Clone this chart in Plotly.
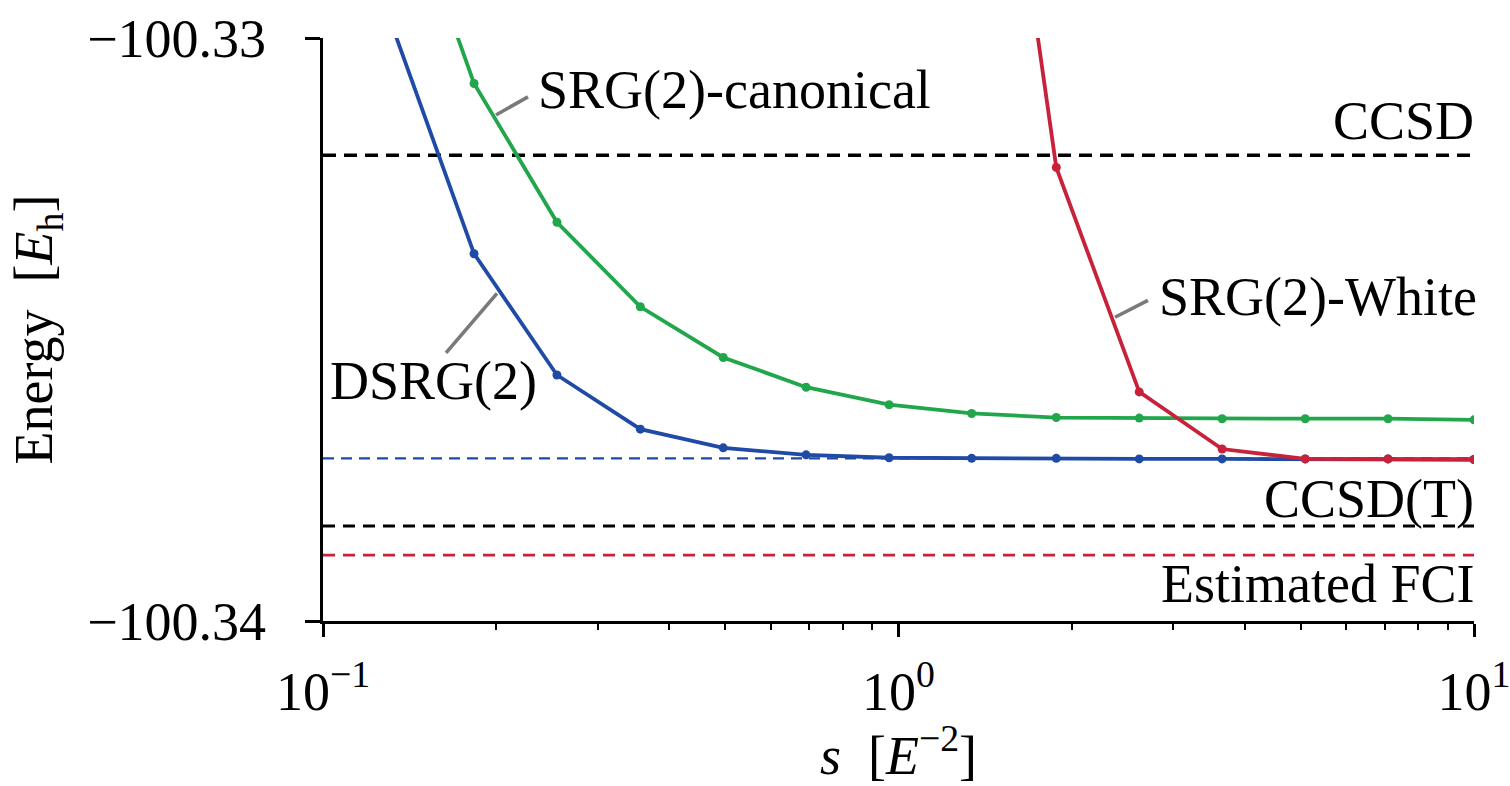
import plotly.graph_objects as go

# ---------------- data ----------------
s_values = [0.131, 0.183, 0.255, 0.356, 0.496, 0.691, 0.963, 1.34, 1.88, 2.62, 3.65, 5.09, 7.09, 10.0]
dsrg2 = [-100.32971, -100.33370, -100.33578, -100.33671, -100.33703, -100.33715, -100.33720,
         -100.33721, -100.33721, -100.33722, -100.33722, -100.33722, -100.33722, -100.33723]
srg2_canonical = [-100.32674, -100.33078, -100.33316, -100.33461, -100.33548, -100.33599, -100.33629,
                  -100.33644, -100.33651, -100.33652, -100.33653, -100.33653, -100.33653, -100.33655]
s_white = [1.34, 1.88, 2.62, 3.65, 5.09, 7.09, 10.0]
srg2_white = [-100.32199, -100.33222, -100.33607, -100.33705, -100.33722, -100.33722, -100.33723]

ref_names = ["CCSD", "DSRG(2) limit", "CCSD(T)", "Estimated FCI"]
ref_levels = [-100.33201, -100.33721, -100.33837, -100.33887]

x_ticks = [0.1, 1, 10]
x_ticktext = ["10<sup>−1</sup>", "10<sup>0</sup>", "10<sup>1</sup>"]
x_minor = [0.2, 0.3, 0.4, 0.5, 0.6, 0.7, 0.8, 0.9, 2, 3, 4, 5, 6, 7, 8, 9]
y_ticks = [-100.34, -100.33]
y_ticktext = ["−100.34", "−100.33"]

# label leader lines (data coords: s, energy)
leader_canonical = ([0.1998, 0.2271], [-100.33132, -100.33101])
leader_dsrg = ([0.1636, 0.2006], [-100.33540, -100.33438])
leader_white = ([2.378, 2.713], [-100.33479, -100.33450])

# ---------------- style ----------------
FONT = "Liberation Serif"
FS = 54
BLUE = "#1f4ba6"
GREEN = "#21a64b"
RED = "#c8213a"
GREY = "#7a7a7a"

fig = go.Figure()

ref_styles = [
    dict(color="black", width=3.6, dash="13px,8px"),
    dict(color=BLUE, width=2.4, dash="11px,7px"),
    dict(color="black", width=3.0, dash="12px,8px"),
    dict(color=RED, width=2.8, dash="12px,8px"),
]
for name, lvl, st in zip(ref_names, ref_levels, ref_styles):
    fig.add_trace(go.Scatter(x=[x_ticks[0], x_ticks[-1]], y=[lvl, lvl], mode="lines",
                             line=st, name=name, hoverinfo="skip"))

for lx, ly in (leader_canonical, leader_dsrg, leader_white):
    fig.add_trace(go.Scatter(x=lx, y=ly, mode="lines", line=dict(color=GREY, width=3.6),
                             hoverinfo="skip"))

fig.add_trace(go.Scatter(x=s_values, y=dsrg2, mode="lines+markers", name="DSRG(2)",
                         line=dict(color=BLUE, width=3.8), marker=dict(color=BLUE, size=9)))
fig.add_trace(go.Scatter(x=s_values, y=srg2_canonical, mode="lines+markers", name="SRG(2)-canonical",
                         line=dict(color=GREEN, width=3.8), marker=dict(color=GREEN, size=9)))
fig.add_trace(go.Scatter(x=s_white, y=srg2_white, mode="lines+markers", name="SRG(2)-White",
                         line=dict(color=RED, width=3.8), marker=dict(color=RED, size=9)))

def ann(text, x, y, xanchor, xref="x"):
    return dict(text=text, x=x, y=y, xref=xref, yref="y", xanchor=xanchor, yanchor="middle",
                showarrow=False, font=dict(family=FONT, size=FS, color="black"))

fig.update_layout(
    width=1510, height=786,
    margin=dict(l=323, r=36, t=38, b=165, autoexpand=False),
    paper_bgcolor="white", plot_bgcolor="white",
    showlegend=False,
    font=dict(family=FONT, size=FS, color="black"),
    annotations=[
        ann("SRG(2)-canonical", -0.630, -100.33089, "left"),
        ann("DSRG(2)", -0.991, -100.33588, "left"),
        ann("SRG(2)-White", 0.449, -100.33445, "left"),
        ann("CCSD", 1.002, -100.33143, "right", xref="paper"),
        ann("CCSD(T)", 1.002, -100.33790, "right", xref="paper"),
        ann("Estimated FCI", 1.002, -100.33936, "right", xref="paper"),
    ],
)

fig.update_xaxes(
    type="log", range=[-1, 1], automargin=False,
    tickmode="array", tickvals=x_ticks, ticktext=x_ticktext,
    ticks="outside", ticklen=13, tickwidth=2.6, tickcolor="black",
    minor=dict(tickmode="array", tickvals=x_minor, ticks="outside", ticklen=6,
               tickwidth=2.2, tickcolor="black", showgrid=False),
    showline=True, linecolor="black", linewidth=3.2,
    showgrid=False, zeroline=False,
    ticklabelstandoff=8, ticklabeloverflow="allow",
    tickfont=dict(family=FONT, size=FS),
    title=dict(text="<i>s</i>  [<i>E</i><sup>−2</sup>]", font=dict(family=FONT, size=FS), standoff=4),
)
fig.update_yaxes(
    range=[-100.34, -100.33], automargin=False,
    tickmode="array", tickvals=y_ticks, ticktext=y_ticktext,
    ticks="outside", ticklen=15, tickwidth=2.6, tickcolor="black",
    showline=True, linecolor="black", linewidth=3.2,
    showgrid=False, zeroline=False,
    ticklabelstandoff=28, ticklabeloverflow="allow",
    tickfont=dict(family=FONT, size=FS),
    title=dict(text="Energy  [<i>E</i><sub>h</sub>]", font=dict(family=FONT, size=FS), standoff=18),
)

fig.write_html("out.html")
